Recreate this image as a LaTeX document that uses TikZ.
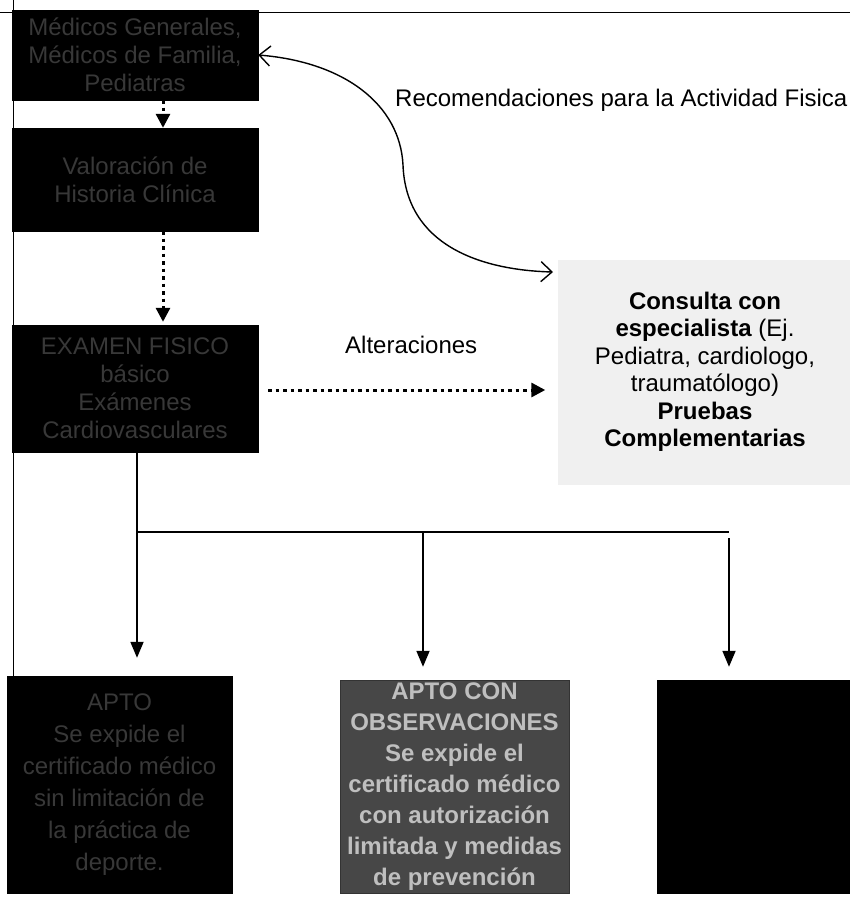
\documentclass[tikz,border=0pt]{standalone}
\usepackage{fontspec}
\setmainfont{Liberation Sans}
\usetikzlibrary{arrows.meta}
\begin{document}
\begin{tikzpicture}[x=1pt,y=-1pt,
  darkbox/.style={draw=black,fill=black,text=black!78,inner sep=0pt,align=center,
    font=\fontsize{24}{28}\selectfont},
  greybox/.style={draw=black!80,fill=black!72,text=black!25,inner sep=0pt,align=center,
    font=\bfseries\fontsize{24}{31}\selectfont},
  consbox/.style={fill=black!6,inner sep=0pt,align=center,
    font=\fontsize{24}{27.5}\selectfont},
  lbl/.style={inner sep=0pt,font=\fontsize{24}{28}\selectfont},
  dotarrow/.style={line width=3pt,dash pattern=on 3.5pt off 4pt,
    -{Triangle[length=14pt,width=14pt]}},
  solidarrow/.style={line width=1.8pt,-{Triangle[length=16pt,width=13pt]}},
  plainline/.style={line width=1.8pt},
  curvearrow/.style={line width=1.4pt,
    {Straight Barb[length=11pt,width=20pt]}-{Straight Barb[length=11pt,width=20pt]}},
  frame/.style={line width=1pt}]
\useasboundingbox (0,0) rectangle (850,898);
\fill[white] (0,0) rectangle (850,898);
% page frame lines
\draw[frame] (0,12) -- (850,12);
\draw[frame] (13,0) -- (13,676);
% boxes
\node[darkbox,minimum width=246pt,minimum height=90pt] (b1) at (135,55)
  {Médicos Generales,\\ Médicos de Familia,\\ Pediatras};
\node[darkbox,minimum width=246pt,minimum height=103pt] (b2) at (135,179.5)
  {Valoración de\\ Historia Clínica};
\node[darkbox,minimum width=246pt,minimum height=127pt] (b3) at (135,388.5)
  {EXAMEN FISICO\\ básico\\ Exámenes\\ Cardiovasculares};
\node[darkbox,minimum width=225pt,minimum height=217pt,
  font=\fontsize{24}{32}\selectfont] (b4) at (119.5,784.5)
  {APTO\\ Se expide el\\ certificado médico\\ sin limitación de\\ la práctica de\\ deporte.};
\node[greybox,minimum width=229pt,minimum height=213pt] (b5) at (454.5,786.5)
  {APTO CON\\ OBSERVACIONES\\ Se expide el\\ certificado médico\\ con autorización\\ limitada y medidas\\ de prevención};
\node[darkbox,minimum width=193pt,minimum height=213pt] (b6) at (753.5,786.5) {};
\node[consbox,minimum width=295pt,minimum height=225pt] (cons) at (705,372)
  {\textbf{Consulta con}\\ \textbf{especialista} (Ej.\\ Pediatra, cardiologo,\\ traumatólogo)\\ \textbf{Pruebas}\\ \textbf{Complementarias}};
% labels
\node[lbl,anchor=base west] (rec) at (395,106) {Recomendaciones para la Actividad Fisica};
\node[lbl,anchor=base west] (alt) at (345,353) {Alteraciones};
% connectors
\draw[dotarrow] (b1.south -| 163,0) -- (b2.north -| 163,0);
\draw[dotarrow,shorten >=3pt] (b2.south -| 163,0) -- (b3.north -| 163,0);
\draw[dotarrow,shorten <=10pt,shorten >=12pt] (b3.east |- 0,390) -- (cons.west |- 0,390);
\coordinate (jl) at (137,532);
\coordinate (jm) at (423,532);
\coordinate (jr) at (729,532);
\draw[plainline] (b3.south -| jl) -- (jl) -- (jr);
\draw[solidarrow,shorten >=18pt] (jl) -- (b4.north -| jl);
\draw[solidarrow,shorten >=13pt] (jm) -- (b5.north -| jm);
\draw[solidarrow,shorten <=6pt,shorten >=13pt] (jr) -- (b6.north -| jr);
\coordinate (ce) at (553,272);
\draw[curvearrow] (b1.east |- 0,55) .. controls (345,62) and (400,105) .. (403,165)
  .. controls (406,245) and (480,270) .. (ce);
\end{tikzpicture}
\end{document}
